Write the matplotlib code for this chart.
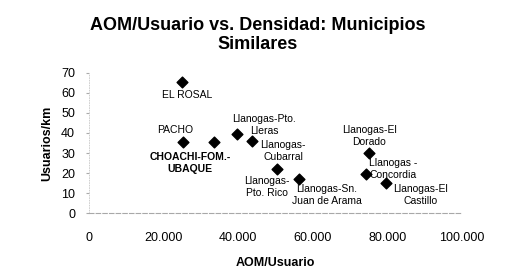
import matplotlib
matplotlib.use("Agg")
import matplotlib.pyplot as plt
from matplotlib.ticker import FuncFormatter

plt.rcParams['font.family'] = ['Liberation Sans', 'DejaVu Sans']

# AOM/Usuario vs usuarios por km
municipios = ["EL ROSAL", "PACHO", "CHOACHI-FOM.-\nUBAQUE", "Llanogas-Pto.\nLleras",
              "Llanogas-\nCubarral", "Llanogas-\nPto. Rico", "Llanogas-Sn.\nJuan de Arama",
              "Llanogas-El\nDorado", "Llanogas -\nConcordia", "Llanogas-El\nCastillo"]
aom_usuario = [24900, 25200, 33500, 39700, 43700, 50400, 56300, 75100, 74300, 79600]
usuarios_km = [65.5, 35.5, 35.5, 39.5, 36, 22, 17, 30, 19.5, 15]
negrita = [False, False, True, False, False, False, False, False, False, False]
# desplazamiento de cada etiqueta (pixeles)
offsets = [(5, -13), (-8, 12), (-24, -21), (27, 9), (31, -10),
           (-10, -18), (28, -16), (0, 17), (27, 5), (35, -12)]

fig = plt.figure(figsize=(5.19, 2.77), dpi=100)
ax = fig.add_axes([0.1715, 0.231, 0.7185, 0.5055])

ax.scatter(aom_usuario, usuarios_km, marker='D', s=30, color='black', zorder=3)

for name, x, y, b, off in zip(municipios, aom_usuario, usuarios_km, negrita, offsets):
    ax.annotate(name, (x, y), xytext=off, textcoords='offset pixels',
                ha='center', va='center', fontsize=7.5, linespacing=1.15,
                fontweight='bold' if b else 'normal')

ax.set_xlim(0, 100000)
ax.set_ylim(0, 70)
ax.set_xticks([0, 20000, 40000, 60000, 80000, 100000])
ax.set_yticks(range(0, 80, 10))
ax.xaxis.set_major_formatter(FuncFormatter(lambda v, p: f"{int(v):,}".replace(",", ".")))
ax.tick_params(axis='x', length=0, pad=14, labelsize=9)
ax.tick_params(axis='y', length=2, color='#aaaaaa', pad=8, labelsize=9)

for s in ['top', 'right']:
    ax.spines[s].set_visible(False)
ax.spines['left'].set_color('#c8c8c8')
ax.spines['left'].set_linewidth(0.6)
ax.spines['left'].set_linestyle((0, (1, 2)))
ax.spines['bottom'].set_color('#a8a8a8')
ax.spines['bottom'].set_linewidth(0.8)
ax.spines['bottom'].set_linestyle((0, (4, 2)))

ax.set_xlabel("AOM/Usuario", fontsize=9, fontweight='bold', labelpad=9)
ax.set_ylabel("Usuarios/km", fontsize=9, fontweight='bold', labelpad=6)
fig.suptitle("AOM/Usuario vs. Densidad: Municipios\nSimilares", x=0.497, y=0.94,
             fontsize=13, fontweight='bold', linespacing=1.2)

fig.savefig("out.png", dpi=100)
